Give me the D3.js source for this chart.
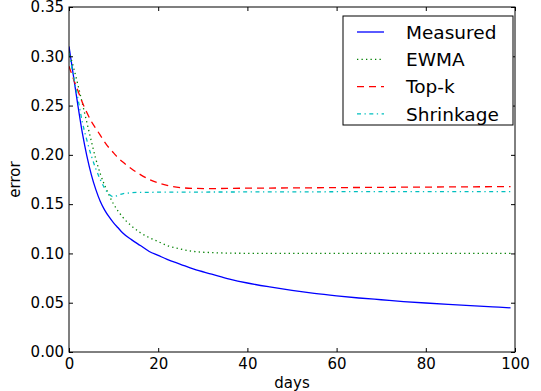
<!DOCTYPE html>
<html>
<head>
<meta charset="utf-8">
<script src="https://cdn.jsdelivr.net/npm/d3@7"></script>
<style>
  body { margin: 0; background: #fff; }
  svg text { font-family: "DejaVu Sans", sans-serif; }
</style>
</head>
<body>
<div id="chart"></div>
<script>
const days = [0, 1, 2, 3, 4, 5, 6, 7, 8, 9, 10, 11, 12, 14, 16, 18, 20, 22, 25, 28,
  32, 36, 40, 45, 50, 55, 60, 65, 70, 75, 80, 85, 90, 95, 99];

const measured = [0.310, 0.280, 0.250, 0.222, 0.199, 0.180, 0.165, 0.153, 0.144, 0.137,
  0.131, 0.126, 0.121, 0.114, 0.108, 0.102, 0.098, 0.094, 0.089, 0.084,
  0.079, 0.074, 0.070, 0.066, 0.0625, 0.0595, 0.057, 0.0548, 0.053, 0.0512,
  0.0497, 0.0483, 0.047, 0.0458, 0.0448];

const ewma = [0.305, 0.289, 0.271, 0.252, 0.233, 0.214, 0.196, 0.181, 0.169, 0.159,
  0.150, 0.143, 0.137, 0.128, 0.121, 0.116, 0.112, 0.108, 0.1045, 0.102,
  0.1008, 0.1003, 0.1001, 0.100, 0.100, 0.100, 0.100, 0.100, 0.100, 0.100,
  0.100, 0.100, 0.100, 0.100, 0.100];

const topk = [0.290, 0.277, 0.265, 0.253, 0.243, 0.234, 0.227, 0.220, 0.213, 0.207,
  0.202, 0.197, 0.193, 0.186, 0.180, 0.175, 0.1715, 0.169, 0.1668, 0.166,
  0.1658, 0.166, 0.1662, 0.1663, 0.1665, 0.1666, 0.1668, 0.1669, 0.167, 0.1672,
  0.1673, 0.1675, 0.1676, 0.1677, 0.1678];

const shrinkage = [0.303, 0.280, 0.257, 0.233, 0.215, 0.199, 0.186, 0.175, 0.166, 0.160,
  0.1575, 0.159, 0.1605, 0.1615, 0.162, 0.162, 0.1621, 0.1621, 0.1622, 0.1622,
  0.1623, 0.1623, 0.1624, 0.1624, 0.1625, 0.1625, 0.1626, 0.1626, 0.1626, 0.1627,
  0.1627, 0.1627, 0.1628, 0.1628, 0.1628];

const seriesNames = ["Measured", "EWMA", "Top-k", "Shrinkage"];
const xTicks = [0, 20, 40, 60, 80, 100];
const yTicks = [0, 0.05, 0.10, 0.15, 0.20, 0.25, 0.30, 0.35];

const width = 541, height = 391;
const margin = {top: 7, right: 26, bottom: 39, left: 69};
const w = width - margin.left - margin.right;
const h = height - margin.top - margin.bottom;

const styles = [
  {color: "#0000ff", dash: null},
  {color: "#008000", dash: "1.3,3.2"},
  {color: "#ff0000", dash: "7,5"},
  {color: "#00bfbf", dash: "4,3.5,1.3,3.5"}
];

const svg = d3.select("#chart").append("svg")
  .attr("width", width)
  .attr("height", height);

const g = svg.append("g")
  .attr("transform", "translate(" + margin.left + "," + margin.top + ")");

const x = d3.scaleLinear().domain([0, 100]).range([0, w]);
const y = d3.scaleLinear().domain([0, 0.35]).range([h, 0]);

const allSeries = [measured, ewma, topk, shrinkage];

const line = d3.line()
  .x((d, i) => x(days[i]))
  .y(d => y(d))
  .curve(d3.curveMonotoneX);

g.append("defs").append("clipPath").attr("id", "clip")
  .append("rect").attr("width", w).attr("height", h);

g.append("g").attr("clip-path", "url(#clip)")
  .selectAll("path")
  .data(allSeries)
  .enter()
  .append("path")
  .attr("d", line)
  .attr("fill", "none")
  .attr("stroke", (d, i) => styles[i].color)
  .attr("stroke-width", 1.3)
  .attr("stroke-dasharray", (d, i) => styles[i].dash);

// axes, ticks pointing inward on all four sides
const fmt = d3.format(".2f");
const axBottom = g.append("g").attr("transform", "translate(0," + h + ")")
  .call(d3.axisBottom(x).tickValues(xTicks).tickSize(-4).tickPadding(6));
const axLeft = g.append("g")
  .call(d3.axisLeft(y).tickValues(yTicks).tickFormat(fmt).tickSize(-4).tickPadding(5));
const axTop = g.append("g")
  .call(d3.axisTop(x).tickValues(xTicks).tickSize(-4).tickFormat(""));
const axRight = g.append("g").attr("transform", "translate(" + w + ",0)")
  .call(d3.axisRight(y).tickValues(yTicks).tickSize(-4).tickFormat(""));

[axBottom, axLeft, axTop, axRight].forEach(a => {
  a.select(".domain").remove();
  a.selectAll("line").attr("stroke", "#000");
  a.selectAll("text").attr("fill", "#000").style("font-size", "15px");
});

g.append("rect")
  .attr("width", w)
  .attr("height", h)
  .attr("fill", "none")
  .attr("stroke", "#000")
  .attr("stroke-width", 1);

g.append("text")
  .attr("x", w / 2)
  .attr("y", height - margin.top - 3)
  .attr("text-anchor", "middle")
  .style("font-size", "15px")
  .text("days");

g.append("text")
  .attr("transform", "translate(" + (20 - margin.left) + "," + (h / 2) + ") rotate(-90)")
  .attr("text-anchor", "middle")
  .style("font-size", "15px")
  .text("error");

// legend
const legend = svg.append("g").attr("transform", "translate(343,16)");
legend.append("rect")
  .attr("width", 170)
  .attr("height", 109)
  .attr("fill", "#fff")
  .attr("stroke", "#000")
  .attr("stroke-width", 1);

const rows = legend.selectAll("g.row")
  .data(seriesNames)
  .enter()
  .append("g")
  .attr("class", "row")
  .attr("transform", (d, i) => "translate(0," + (16 + i * 27.3) + ")");

rows.append("line")
  .attr("x1", 14).attr("x2", 41)
  .attr("stroke", (d, i) => styles[i].color)
  .attr("stroke-width", 1.3)
  .attr("stroke-dasharray", (d, i) => styles[i].dash);

rows.append("text")
  .attr("x", 63)
  .attr("dy", "0.36em")
  .style("font-size", "18.5px")
  .text(d => d);
</script>
</body>
</html>
